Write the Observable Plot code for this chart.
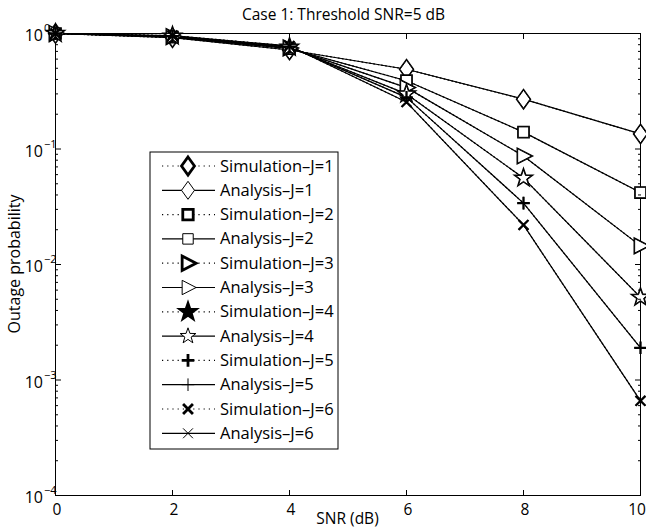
<!DOCTYPE html>
<html><head><meta charset="utf-8">
<script src="https://cdn.jsdelivr.net/npm/d3@7"></script>
<script src="https://cdn.jsdelivr.net/npm/@observablehq/plot@0.6"></script>
<style>body{margin:0;background:#fff}</style>
</head><body><div id="chart"></div>
<script>
const titleText = "Case 1: Threshold SNR=5 dB";
const xLabel = "SNR (dB)";
const yLabel = "Outage probability";
const snr = [0, 2, 4, 6, 8, 10];
const xTicks = [0, 2, 4, 6, 8, 10];
const yMajor = [1e-4, 1e-3, 1e-2, 1e-1, 1];
const yExp = ["−4", "−3", "−2", "−1", "0"];
const yMinor = [2,3,4,5,6,7,8,9].flatMap(k => [1e-4, 1e-3, 1e-2, 1e-1].map(d => k * d));

const sim_J1 = [1, 0.92, 0.72, 0.49, 0.27, 0.135];
const sim_J2 = [1, 0.93, 0.74, 0.39, 0.14, 0.042];
const sim_J3 = [1, 0.94, 0.75, 0.34, 0.087, 0.0145];
const sim_J4 = [1, 0.95, 0.76, 0.30, 0.056, 0.0052];
const sim_J5 = [1, 0.95, 0.77, 0.28, 0.034, 0.0019];
const sim_J6 = [1, 0.96, 0.78, 0.255, 0.022, 0.00066];
const ana_J1 = [1, 0.92, 0.72, 0.49, 0.27, 0.135];
const ana_J2 = [1, 0.93, 0.74, 0.39, 0.14, 0.042];
const ana_J3 = [1, 0.94, 0.75, 0.34, 0.087, 0.0145];
const ana_J4 = [1, 0.95, 0.76, 0.30, 0.056, 0.0052];
const ana_J5 = [1, 0.95, 0.77, 0.28, 0.034, 0.0019];
const ana_J6 = [1, 0.96, 0.78, 0.255, 0.022, 0.00066];

const sims = [sim_J1, sim_J2, sim_J3, sim_J4, sim_J5, sim_J6];
const anas = [ana_J1, ana_J2, ana_J3, ana_J4, ana_J5, ana_J6];
const seriesJ = [1, 2, 3, 4, 5, 6];

const FONT = "'Open Sans', sans-serif";

// Matlab-like marker shapes
const rad = s => Math.sqrt(s / Math.PI);
const shapes = [
  {draw(c, s) { const R = rad(s); c.moveTo(0, -R); c.lineTo(0.72 * R, 0); c.lineTo(0, R); c.lineTo(-0.72 * R, 0); c.closePath(); }},
  {draw(c, s) { const h = 0.58 * rad(s); c.moveTo(-h, -h); c.lineTo(h, -h); c.lineTo(h, h); c.lineTo(-h, h); c.closePath(); }},
  {draw(c, s) { const R = rad(s); c.moveTo(0.9 * R, 0); c.lineTo(-0.65 * R, -0.8 * R); c.lineTo(-0.65 * R, 0.8 * R); c.closePath(); }},
  {draw(c, s) { const R = 0.92 * rad(s), r = 0.4 * R;
    for (let i = 0; i < 10; i++) { const a = -Math.PI / 2 + i * Math.PI / 5, q = i % 2 ? r : R;
      if (i) c.lineTo(q * Math.cos(a), q * Math.sin(a)); else c.moveTo(q * Math.cos(a), q * Math.sin(a)); }
    c.closePath(); }},
  {draw(c, s) { const R = 0.7 * rad(s); c.moveTo(-R, 0); c.lineTo(R, 0); c.moveTo(0, -R); c.lineTo(0, R); }},
  {draw(c, s) { const R = 0.55 * rad(s); c.moveTo(-R, -R); c.lineTo(R, R); c.moveTo(-R, R); c.lineTo(R, -R); }}
];
const R0 = 9;

const rows = (arr, j) => snr.map((x, i) => ({snr: x, p: arr[i], J: j}));

const marks = [Plot.frame({stroke: "black", strokeWidth: 1})];

// lines
seriesJ.forEach((j, k) => {
  marks.push(Plot.line(rows(sims[k], j), {x: "snr", y: "p", stroke: "black", strokeWidth: 1.2, strokeDasharray: "1,3"}));
  marks.push(Plot.line(rows(anas[k], j), {x: "snr", y: "p", stroke: "black", strokeWidth: 1.2}));
});
// markers
seriesJ.forEach((j, k) => {
  marks.push(Plot.dot(rows(sims[k], j), {x: "snr", y: "p", r: R0, symbol: shapes[k], stroke: "black", strokeWidth: 2.3, fill: k === 3 ? "black" : "white"}));
  marks.push(Plot.dot(rows(anas[k], j), {x: "snr", y: "p", r: R0, symbol: shapes[k], stroke: "black", strokeWidth: 1, fill: "white"}));
});

// axes (inward ticks, labels drawn separately)
marks.push(
  Plot.axisX({ticks: xTicks, tickSize: -5, label: null, tickFormat: () => ""}),
  Plot.axisX({anchor: "top", ticks: xTicks, tickSize: -5, label: null, tickFormat: () => ""}),
  Plot.axisY({ticks: yMajor, tickSize: -6, label: null, tickFormat: () => ""}),
  Plot.axisY({ticks: yMinor, tickSize: -3, label: null, tickFormat: () => ""}),
  Plot.axisY({anchor: "right", ticks: yMajor, tickSize: -6, label: null, tickFormat: () => ""}),
  Plot.axisY({anchor: "right", ticks: yMinor, tickSize: -3, label: null, tickFormat: () => ""})
);

const txt = (g, x, y, s, size, anchor) => g.append("text").attr("x", x).attr("y", y)
  .attr("text-anchor", anchor).style("font-size", size + "px").style("font-family", FONT)
  .attr("fill", "black").text(s);

// tick labels, titles
marks.push((index, scales, values, dims) => {
  const g = d3.create("svg:g");
  const {width, height, marginTop, marginBottom, marginLeft, marginRight} = dims;
  const yb = height - marginBottom;
  xTicks.forEach((v, i) => {
    const last = i === xTicks.length - 1;
    txt(g, scales.x(v) + (last ? -3 : 2), yb + 20, String(v), 15.5, "middle");
  });
  yMajor.forEach((v, i) => {
    const y = scales.y(v);
    txt(g, 43, y + 8, "10", 16, "end");
    txt(g, 44, y - 1, yExp[i], 11, "start");
  });
  const cx = (marginLeft + width - marginRight) / 2;
  txt(g, cx - 4, 20, titleText, 15.5, "middle");
  txt(g, cx, height - 6, xLabel, 15.5, "middle");
  txt(g, 0, 0, yLabel, 16, "middle")
    .attr("transform", `translate(20,${(marginTop + yb) / 2}) rotate(-90)`);
  return g.node();
});

// legend
const legendNames = seriesJ.flatMap(j => [`Simulation–J=${j}`, `Analysis–J=${j}`]);
marks.push(() => {
  const g = d3.create("svg:g");
  const x0 = 150, y0 = 152, w = 188, h = 297, top = 166, step = 24.3;
  g.append("rect").attr("x", x0).attr("y", y0).attr("width", w).attr("height", h)
    .attr("fill", "white").attr("stroke", "black").attr("stroke-width", 1);
  legendNames.forEach((name, i) => {
    const k = Math.floor(i / 2), sim = i % 2 === 0, y = top + i * step;
    g.append("line").attr("x1", 162).attr("x2", 215).attr("y1", y).attr("y2", y)
      .attr("stroke", "black").attr("stroke-width", 1.2)
      .attr("stroke-dasharray", sim ? "1.2,4" : null);
    const p = d3.path(); shapes[k].draw(p, R0 * R0 * Math.PI);
    g.append("path").attr("d", p.toString()).attr("transform", `translate(188,${y})`)
      .attr("stroke", "black").attr("stroke-width", sim ? 2.8 : 1)
      .attr("fill", sim && k === 3 ? "black" : "white");
    txt(g, 220, y + 5.5, name, 16.5, "start");
  });
  return g.node();
});

const chart = Plot.plot({
  width: 646, height: 530,
  marginTop: 33, marginBottom: 35, marginLeft: 55, marginRight: 6,
  style: {fontFamily: FONT, color: "black", background: "white"},
  x: {domain: [0, 10]},
  y: {type: "log", domain: [1e-4, 1]},
  marks
});
document.getElementById("chart").appendChild(chart);
</script></body></html>
